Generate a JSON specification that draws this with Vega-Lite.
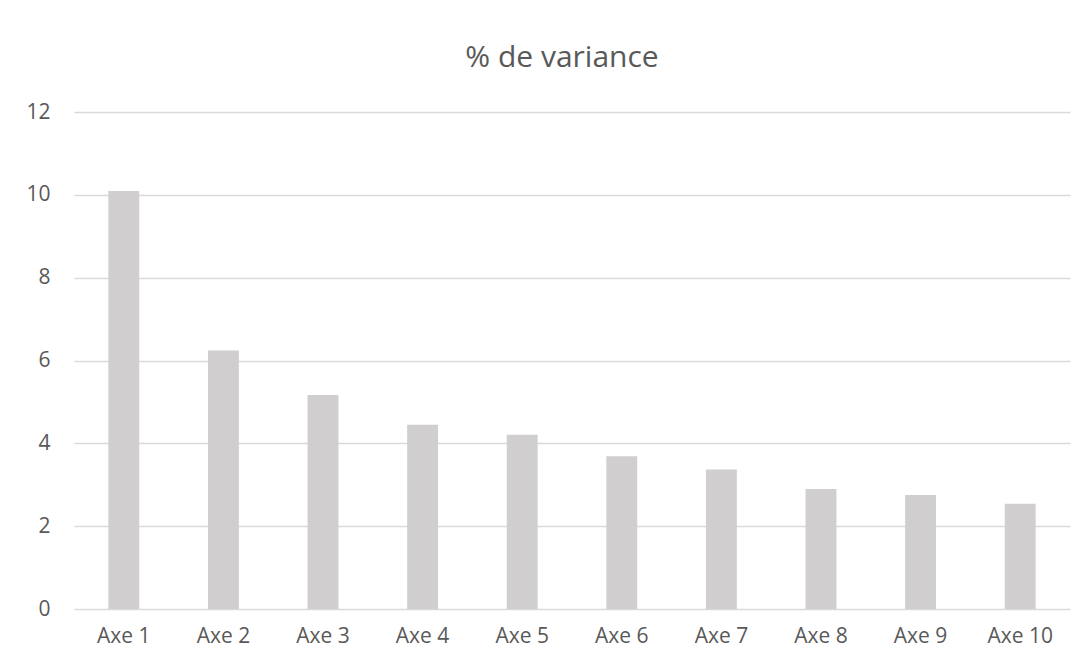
{
  "$schema": "https://vega.github.io/schema/vega-lite/v6.json",
  "width": 996,
  "height": 497,
  "autosize": {"type": "none"},
  "padding": {"left": 74, "top": 112, "right": 16, "bottom": 52},
  "background": "white",
  "title": {
    "text": "% de variance",
    "font": "Open Sans",
    "fontSize": 30,
    "fontWeight": "normal",
    "color": "#595959",
    "anchor": "middle",
    "dx": -10,
    "offset": 28
  },
  "data": {
    "values": [
      {"axe": "Axe 1", "variance": 10.09},
      {"axe": "Axe 2", "variance": 6.24},
      {"axe": "Axe 3", "variance": 5.17},
      {"axe": "Axe 4", "variance": 4.45},
      {"axe": "Axe 5", "variance": 4.21},
      {"axe": "Axe 6", "variance": 3.69},
      {"axe": "Axe 7", "variance": 3.37},
      {"axe": "Axe 8", "variance": 2.9},
      {"axe": "Axe 9", "variance": 2.75},
      {"axe": "Axe 10", "variance": 2.54}
    ]
  },
  "mark": {"type": "bar", "color": "#d0cece"},
  "encoding": {
    "x": {
      "field": "axe",
      "type": "ordinal",
      "sort": null,
      "scale": {"paddingInner": 0.69, "paddingOuter": 0.345},
      "axis": {
        "title": null,
        "labelAngle": 0,
        "ticks": false,
        "domain": false,
        "labelFont": "Open Sans",
        "labelFontSize": 21,
        "labelColor": "#595959",
        "labelPadding": 16
      }
    },
    "y": {
      "field": "variance",
      "type": "quantitative",
      "scale": {"domain": [0, 12], "nice": false},
      "axis": {
        "title": null,
        "values": [0, 2, 4, 6, 8, 10, 12],
        "ticks": false,
        "domain": false,
        "grid": true,
        "gridColor": "#d9d9d9",
        "gridWidth": 1.6,
        "labelFont": "Open Sans",
        "labelFontSize": 21,
        "labelColor": "#595959",
        "labelPadding": 24
      }
    }
  },
  "config": {
    "view": {"stroke": null},
    "axis": {"zindex": 0}
  }
}
